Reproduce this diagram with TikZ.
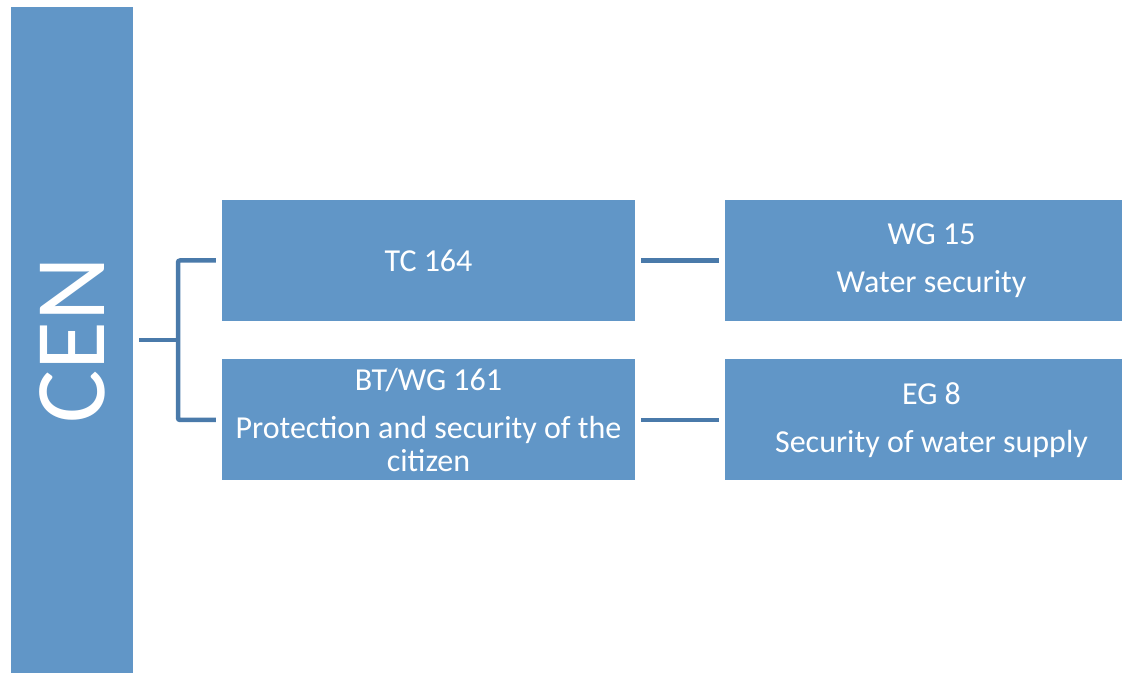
\documentclass[tikz,border=0pt]{standalone}
\usepackage{fontspec}
\setmainfont{Carlito}
\usepackage{tikz}
\usetikzlibrary{positioning}
\definecolor{boxblue}{RGB}{97,150,199}
\definecolor{linkblue}{RGB}{74,122,170}
\tikzset{unit/.style = {fill = boxblue, text = white, inner sep = 0, align = center,
                        font = \fontsize{32}{33}\selectfont}}
\tikzset{wide/.style = {unit, minimum width = 413, minimum height = 121}}
\tikzset{link/.style = {draw = linkblue, line width = 4.5, rounded corners = 2}}

\begin{document}
\begin{tikzpicture}[x = 1pt, y = 1pt]
      \useasboundingbox (0, 0) rectangle (1123, 674);
      \node (cen) at (72, 334) [unit, minimum width = 122, minimum height = 666] {};
      \node at (cen.center) [rotate = 90, text = white, font = \fontsize{100}{100}\selectfont] {CEN};

      \node (tc) at (428.5, 413.5) [wide] {TC 164};
      \node (bt) at (428.5, 254) [wide] {BT/WG 161\\[15pt] Protection and security of the\\ citizen};

      \node (wg) at (923.5, 413.5) [wide, minimum width = 397] {\hspace{16pt}WG 15\\[15pt] \hspace{16pt}Water security};
      \node (eg) at (923.5, 254) [wide, minimum width = 397] {\hspace{16pt}EG 8\\[15pt] \hspace{16pt}Security of water supply};

      \coordinate (fork) at (178, 334);
      \draw [link] ([xshift = 6]cen.east) -- (fork);
      \draw [link] ([xshift = -6]tc.west) -| (fork) |- ([xshift = -6]bt.west);
      \draw [link] ([xshift = 6]tc.east) -- ([xshift = -6]wg.west);
      \draw [link] ([xshift = 6]bt.east) -- ([xshift = -6]eg.west);
    \end{tikzpicture}
\end{document}
